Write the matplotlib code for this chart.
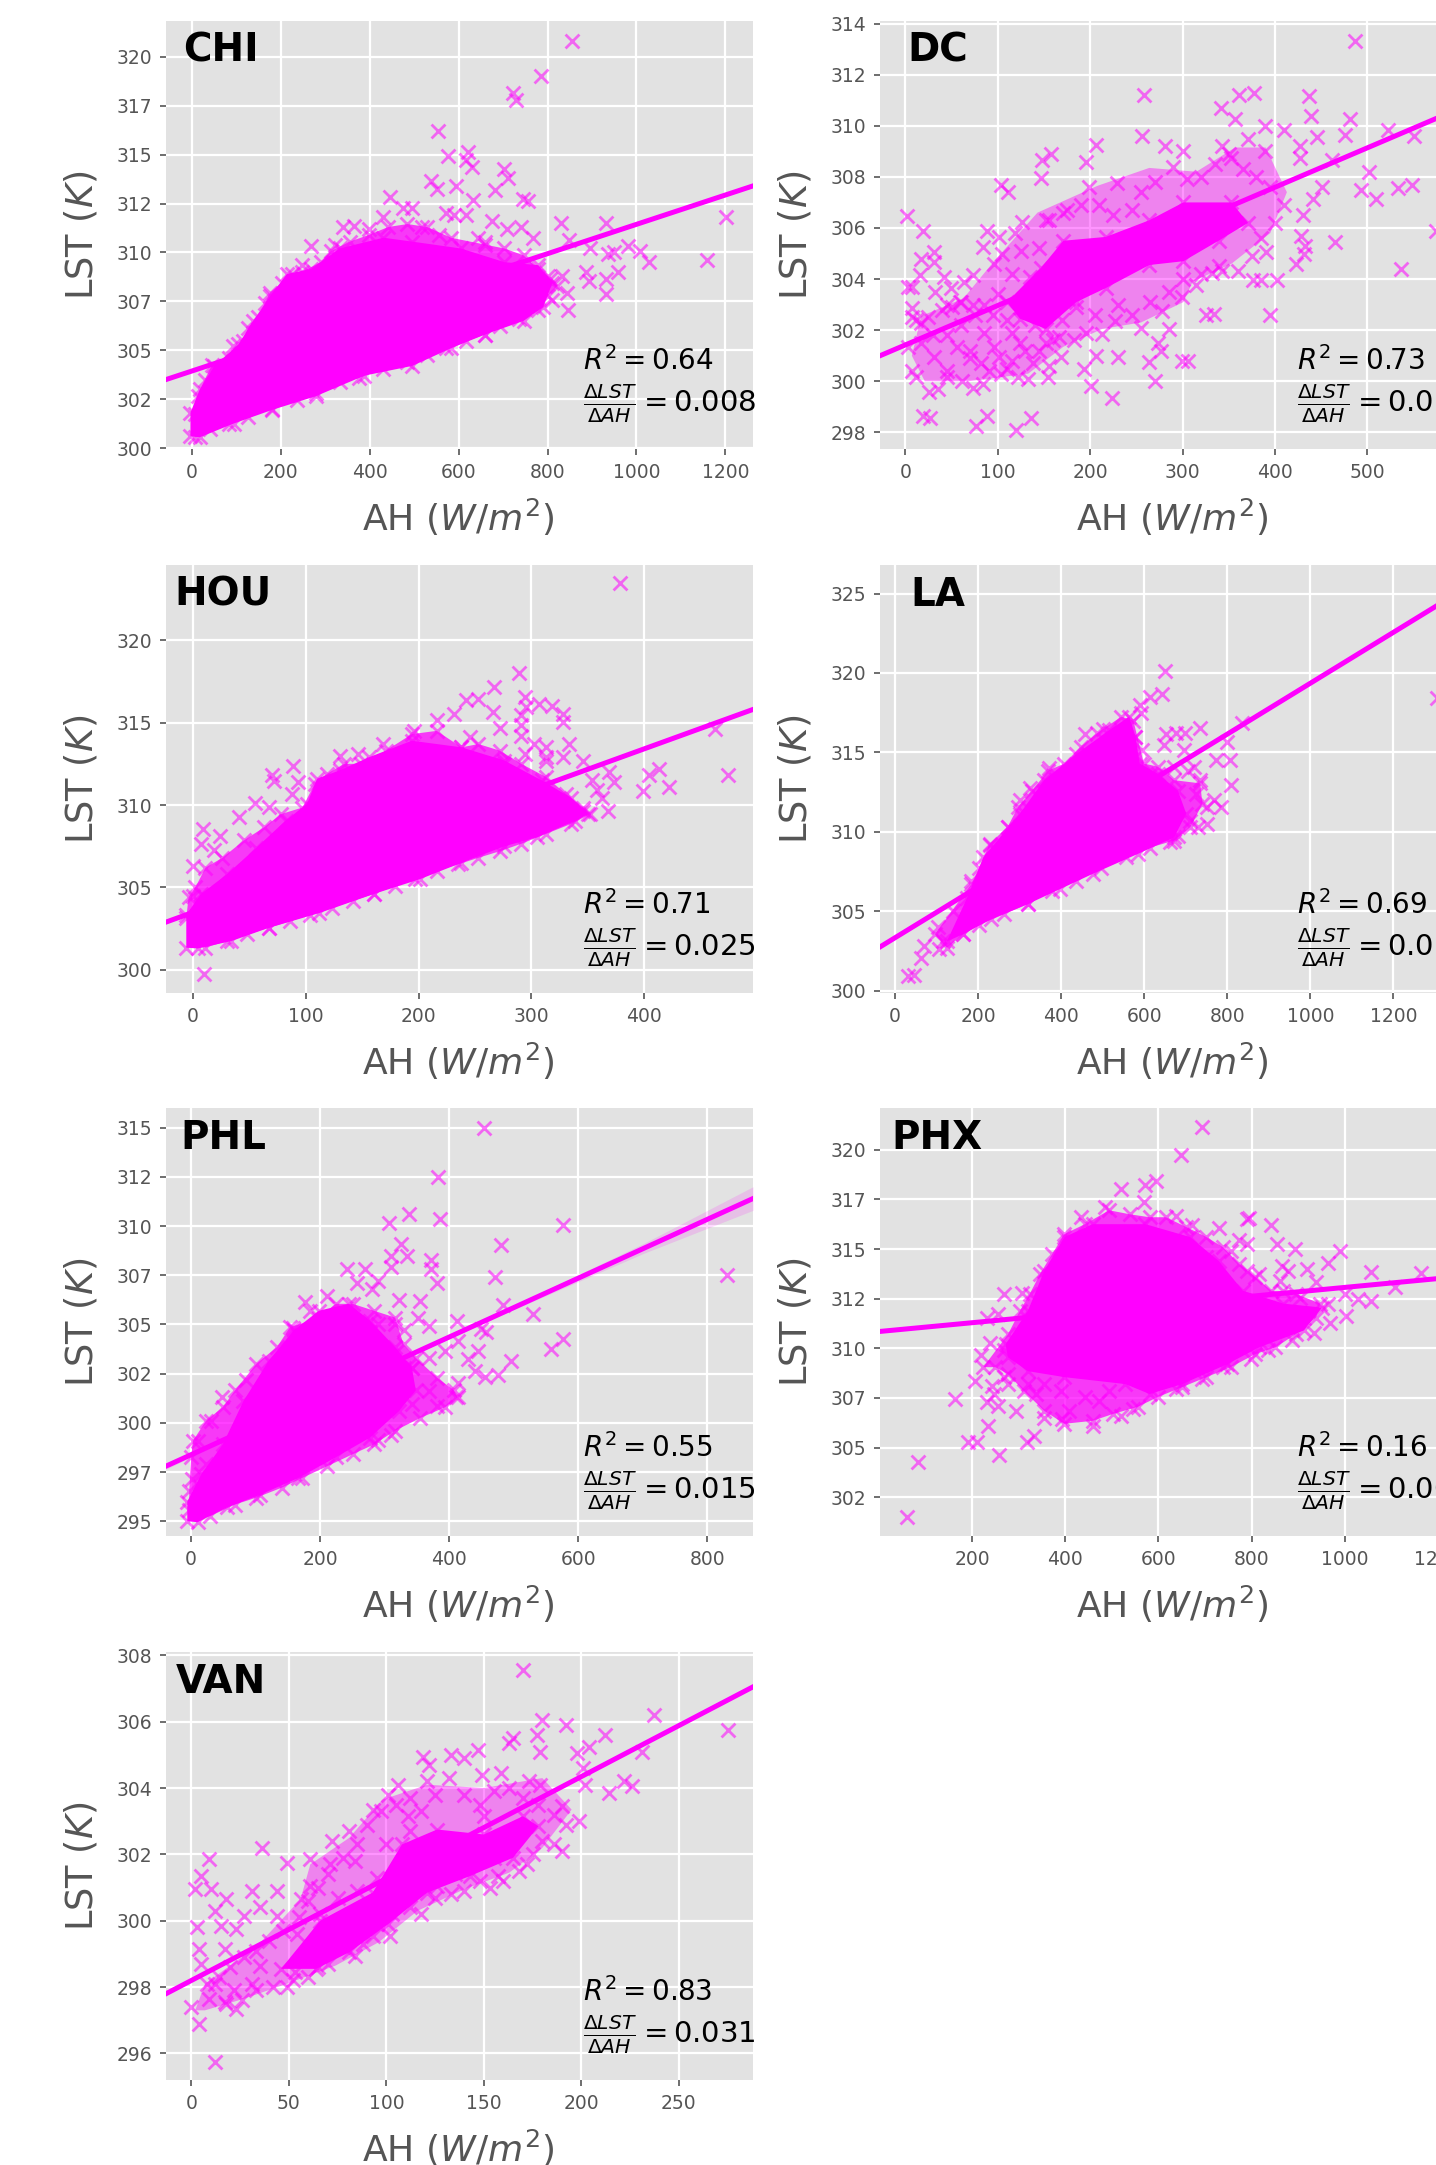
import matplotlib
matplotlib.use('Agg')
import matplotlib.pyplot as plt

# values. the dense middle of each cloud can't be read as single
# crosses so it is kept as an outline (*_core), the crosses around it are listed one by one
# *_edge = crosses along the rim of the cloud

# CHI
chi_x = [855,786,722,728,554,577,621,616,630,703,710,538,551,594,681,632,744,757,445,475,496,589,616,572,831,931,1202,675,741,708,339,364,399,431,768,849,896,980,1009,1028,936,950,1159,958,931,931,887,893,846,844,811,833,806,268,247,92,322,659,643,556,518]
chi_y = [320.8,319.0,318.15,317.8,316.2,314.95,315.15,314.7,314.35,314.25,313.8,313.65,313.25,313.4,313.2,312.7,312.75,312.65,312.85,312.25,312.25,311.9,311.9,312,311.5,311.5,311.8,311.6,311.3,311.2,311.3,311.35,311.2,311.8,310.75,310.65,310.2,310.35,310.05,309.5,309.9,310.0,309.6,309.0,308.65,307.85,309,308.55,307.05,307.9,307.55,308.8,308.65,310.35,309.35,305.2,310.4,310.55,310.75,310.9,311.3]
chi_edge_x = [8,13,29,46,84,116,127,149,165,176,203,225,247,290,312,355,399,442,485,529,583,659,703,746,779,800,822,800,779,735,692,659,616,572,529,485,431,377,333,279,236,181,127,84,40,8]
chi_edge_y = [301.75,302.65,303.5,304.25,304.6,305.45,306.15,306.7,307.4,307.95,308.45,308.9,309,309.5,310.05,310.55,310.9,311.3,311.45,311.3,310.75,310.4,310.2,309.85,309.15,308.8,308.3,307.75,307.05,306.6,306.25,305.8,305.45,305.1,304.75,304.4,304.05,303.6,303.35,302.8,302.45,302,301.6,301.25,300.95,300.55]
chi_core_x = [-3,-3,18,51,105,138,176,214,268,333,431,496,605,703,779,811,790,746,659,583,496,388,279,181,94,18]
chi_core_y = [300.6,301.8,303.0,304.2,305.3,306.5,307.75,308.9,309.15,310.2,310.75,310.55,310.2,309.5,309.35,308.45,307.2,306.5,305.8,305.1,304.2,303.7,302.65,301.95,301.25,300.55]
chi_line_x = [-58,1262]
chi_line_y = [303.5,313.4]
chi_xticks = [0,200,400,600,800,1000,1200]
chi_yticks = [300,302.5,305,307.5,310,312.5,315,317.5,320]
chi_ylabels = ['300','302','305','307','310','312','315','317','320']

# DC
dc_x = [487,258,361,377,437,342,439,357,481,389,410,523,476,256,446,551,371,281,206,343,427,300,158,148,195,389,353,462,427,147,502,103,111,493,533,548,509,451,441,199,229,171,126,2,19,574,430,88,101,152,428,465,433,31,17,31,84,119,432,423,390,537,42,16,73,63,3,7,32,49,376,385,402,332,315,343,96,299,7,45,59,73,7,17,395,325,334,278,255,285,227,213,182,273,277,168,206,230,264,299,306,193,270,201,224,154,133,122,103,84,73,35,26,7,12,45,45,61,19,27,76,88,120,136,3,31,56,70,96,115,138,101,82,152,124,166,17]
dc_y = [313.3,311.2,311.2,311.3,311.15,310.7,310.4,310.25,310.25,310,309.85,309.85,309.65,309.6,309.55,309.6,309.5,309.2,309.25,309.2,309.2,309,308.9,308.65,308.6,309,308.75,308.65,308.75,307.95,308.2,307.7,307.4,307.5,307.55,307.7,307.15,307.6,307.15,307.6,307.75,306.6,306.25,306.45,305.9,305.9,306.5,305.9,305.65,306.3,305.7,305.45,305.3,305.05,304.8,304.65,305.25,305.8,305,304.6,305.05,304.4,304.1,304.15,304.15,303.9,303.7,303.7,303.5,303.65,303.95,303.95,303.95,304.25,303.75,304.3,304.6,303.3,302.85,303,303.1,303,302.5,302.3,302.6,302.6,302.65,302.75,302.1,302.05,302.35,301.85,301.6,301.5,301.2,300.95,301,300.95,300.75,300.8,300.8,300.5,300,299.8,299.35,300.15,300.1,300.15,300.3,299.9,299.75,299.7,299.6,300.4,300.15,300.4,300.15,300,298.65,298.55,298.25,298.65,298.1,298.55,301.35,300.95,301.35,301.2,301.35,300.8,300.7,300.95,300.7,301.5,301.5,301.75,301.5]
dc_edge_x = [40,50,60,25,12,30,45,60,75,85,100,95,110,115,125,85,70,90,110,130,145,155,140,150,135,115,105,125,145,155,175,190,210,225,245,255,270,290,305,320,335,350,365,380,395,410,400,385,375,360,340,320,300,285,265,245,230,205,185,170,160,195]
dc_edge_y = [302.8,302.9,303.1,302.5,302.4,301.8,301.8,302.2,302.6,303,303.4,302.6,302.4,301.9,302.9,301.9,300.9,300.4,300.5,301.2,301.2,300.6,302.2,303,304.1,304.2,305,305.1,305.2,306.3,306.7,306.9,306.9,306.5,306.7,307.4,307.8,308.4,307.9,308,308.5,308.9,308.3,308,307.6,306.9,306.2,305.6,304.9,304.3,304.5,304.2,304,303.5,303.1,302.6,303,302.6,302.9,302.4,301.6,301.9]
dc_core_x = [110,147,171,217,264,301,353,371,339,301,264,217,185,152,124]
dc_core_y = [303.1,304.45,305.5,305.65,306.3,307,307,306.2,305.5,304.7,304.55,303.65,303.1,302.05,302.45]
dc_haze_x = [7,17,63,96,143,208,264,315,357,390,413,395,353,311,301,255,213,171,133,68,21]
dc_haze_y = [301,302.55,303.25,304.7,306.6,307.65,308.35,308.2,309.15,309.15,307.4,305.8,304.6,303.9,303.1,302.3,302.05,301.35,300.3,300,300]
dc_line_x = [-27.5,608]
dc_line_y = [301.0,310.8]
dc_xticks = [0,100,200,300,400,500,600]
dc_yticks = [298,300,302,304,306,308,310,312,314]
dc_ylabels = ['298','300','302','304','306','308','310','312','314']

# HOU
hou_x = [379,289,267,294,253,242,307,318,295,266,328,328,291,291,231,463,272,291,216,333,302,313,346,328,369,373,413,404,474,422,399,368,363,354,358,346,313,130,146,168,196,89,70,72,93,88,55,67,41,9,24,7,0,19,10,0]
hou_y = [323.45,318.0,317.15,316.55,316.45,316.35,316.1,316.0,315.95,315.65,315.55,315.05,315.45,314.85,315.55,314.6,314.7,314.2,315.15,313.7,313.7,313.5,312.7,312.9,312,311.4,312.2,311.85,311.85,311.1,310.85,309.65,310.45,311.5,310.9,309.65,312.7,312.95,313.1,313.7,314.5,312.35,311.85,311.45,311.4,310.65,310.15,309.9,309.25,308.55,308.15,307.65,306.3,307.3,299.75,304.5]
hou_edge_x = [-6,-4,2,11,26,45,63,78,97,108,119,134,149,171,194,216,238,253,272,291,313,331,346,352,335,313,291,272,253,235,216,197,179,160,142,123,104,86,67,48,30,11,276,294,313,246]
hou_edge_y = [303.15,304.4,305,306.2,306.8,307.85,308.65,309.45,309.85,311.3,311.9,312.5,312.5,313.3,314.3,314.5,313.5,313.7,313.3,312.5,311.7,310.65,309.85,309.45,308.85,308.25,307.65,307.2,306.8,306.4,306,305.5,305.1,304.6,304.2,303.75,303.35,302.95,302.55,302.15,301.75,301.35,312.5,313.1,312.9,314.1]
hou_core_x = [-6,-6,7,30,56,82,101,110,130,156,194,238,276,309,335,350,339,305,276,238,201,160,112,67,34,4]
hou_core_y = [301.35,303.35,304.6,305.8,307.4,309.05,310.05,311.6,312.1,312.9,313.9,313.5,312.7,311.5,310.45,309.45,309.05,308.05,307.5,306.5,305.5,304.6,303.45,302.55,301.75,301.3]
hou_line_x = [-24,496.5]
hou_line_y = [302.9,315.8]
hou_xticks = [0,100,200,300,400]
hou_yticks = [300,305,310,315,320]
hou_ylabels = ['300','305','310','315','320']

# LA
la_x = [1304,649,642,613,589,592,836,735,652,677,699,647,696,799,774,806,810,720,594,579,457,501,371,325,301,271,228,184,140,103,71,105,32,45,62,769,784,750,730,735,706,750,711,662,681,672,725,115]
la_y = [318.4,320.15,318.7,318.5,318,317.45,316.85,316.55,316.15,316.2,316.25,315.45,315.15,315.65,314.5,314.55,312.95,314.1,315.15,316,316.15,316.5,314,312.75,312,310.3,309.15,306.9,305,304,302.8,302.6,300.9,301,302.05,312,311.55,310.5,310.3,313.25,313.85,311.55,310.7,309.35,309.75,314.1,312.4,303.1]
la_edge_x = [184,203,228,271,296,330,369,408,447,486,545,574,599,633,672,735,740,711,672,613,555,496,437,379,320,262,203,164,125,96]
la_edge_y = [306.7,307.75,309.25,310.3,311.55,312.6,313.85,314.3,315.35,316.2,317.25,317,314.3,314.1,313.25,313.05,311.75,310.3,309.45,309,308.4,307.75,306.9,306.3,305.45,304.8,304.15,303.55,302.7,303.55]
la_core_x = [125,174,213,301,359,437,516,564,579,589,633,681,701,672,584,476,398,320,232,164]
la_core_y = [303.1,305.85,308.4,311.15,313.25,314.9,316.4,317.25,316,314.3,313.65,312.6,311.15,309.65,308.6,307.35,306.4,305.45,304.5,303.55]
la_line_x = [-36,1377]
la_line_y = [302.75,325.4]
la_xticks = [0,200,400,600,800,1000,1200]
la_yticks = [300,305,310,315,320,325]
la_ylabels = ['300','305','310','315','320','325']

# PHL
phl_x = [454,383,338,386,307,576,325,480,335,309,309,371,371,241,269,470,830,381,257,290,280,211,176,184,322,355,483,351,530,412,368,449,457,576,558,413,444,429,496,475,455,439,394,413,410,381,47,85,158,2,10,31,290,309,342,316,16,23]
phl_y = [315,312.5,310.6,310.35,310.15,310.05,309.1,309.05,308.5,308.5,307.9,308.3,307.8,307.8,307.8,307.4,307.5,307.1,307.1,307.2,306.8,306.45,306.15,305.7,306.25,306.2,306,305.35,305.55,305.2,304.9,304.75,304.6,304.25,303.75,304.15,303.65,303.25,303.15,302.45,302.35,302.65,303.65,302,301.3,300.85,301.3,302.2,304.8,297.15,299.1,300.1,299.15,299.4,302.8,305,296.35,297.9]
phl_edge_x = [-3,-3,0,3,23,49,68,101,133,153,198,224,250,283,316,329,348,381,407,413,394,355,316,283,250,211,172,140,101,68,29,368,329,368,316,342,290,329]
phl_edge_y = [295.55,296.55,298.25,299.1,300.1,300.8,301.65,303,303.85,304.85,305.35,306.05,306.05,305.7,305.35,304,303.3,302.3,301.65,301.3,300.8,300.25,299.6,298.9,298.4,297.8,297.2,296.7,296.2,295.85,295.25,303.3,302.8,301.6,301.6,300.95,305,304.7]
phl_core_x = [-6,-6,16,49,81,120,159,198,244,277,316,342,348,322,277,224,166,107,55,10]
phl_core_y = [295,296,297.4,298.9,301.1,303.15,304.7,305.7,306.05,305.2,303.85,302.8,301.65,300.6,299.25,298.25,297.2,296.35,295.7,294.95]
phl_line_x = [-39,870.5]
phl_line_y = [297.8,311.4]
phl_band_x = [-39,100,300,500,700,870.5]
phl_band_hi = [297.9,299.95,302.95,305.96,309.1,312.0]
phl_band_lo = [297.65,299.8,302.8,305.76,308.6,310.8]
phl_xticks = [0,200,400,600,800]
phl_yticks = [295,297.5,300,302.5,305,307.5,310,312.5,315]
phl_ylabels = ['295','297','300','302','305','307','310','312','315']

# PHX
phx_x = [61,83,163,191,211,257,235,207,220,239,233,255,268,307,317,333,294,255,233,242,277,355,394,459,520,472,407,338,546,638,694,738,799,834,886,934,968,1003,1055,1029,1000,1055,1108,1164,990,964,893,919,855,842,790,794,790,729,672,638,594,572,520,568,485,433,649,694,864,938,773,816,868,964]
phx_y = [301.5,304.3,307.45,305.3,305.3,304.65,306.1,308.35,309.65,310.25,311.55,311.75,312.75,312.8,305.3,305.6,306.85,307.1,307.3,308.1,308.2,306.5,306.45,306.1,306.6,307.35,306.85,307.7,306.95,307.95,308.45,309.05,309.45,309.9,310.4,310.75,311.25,311.65,312.4,312.5,312.75,313.85,313.1,313.8,314.9,314.3,315,314,315.25,316.2,316.5,316.55,315.25,316.05,316.2,316.65,318.4,318.2,318,317.35,317.1,316.6,319.75,321.15,314.15,313.35,315.45,313.75,312.9,312.25]
phx_edge_x = [277,303,324,346,372,398,442,494,538,581,616,660,703,738,773,807,842,894,947,938,894,851,807,755,703,651,599,555,503,459,398,355,311,277,250,224,268,320,390,442,494,355,268,246,703,755,790,877,903,834,860]
phx_edge_y = [310.7,311.9,312.75,313.75,314.75,315.75,316.25,316.95,316.75,316.6,316.6,316.1,315.6,315.1,314.25,313.6,312.9,312.75,312.25,311.55,310.7,310.05,309.7,309.05,308.55,308.05,307.55,307.05,306.7,306.35,306.2,306.85,307.85,308.7,309.05,309.05,309.9,308.2,307.85,307.55,307.85,308.2,308.55,307.7,314.6,314.9,313.9,313.9,312.55,312.05,313.4]
phx_core_x = [272,320,355,398,459,572,668,729,781,868,951,912,816,747,651,581,529,398,320,277]
phx_core_y = [310.2,311.9,313.9,315.6,316.25,316.25,315.6,314.4,312.9,312.25,312.05,310.9,310.05,309.2,308.2,307.7,308.2,308.55,308.85,309.55]
phx_line_x = [2.4,1262]
phx_line_y = [310.85,313.65]
phx_xticks = [200,400,600,800,1000,1200]
phx_yticks = [302.5,305,307.5,310,312.5,315,317.5,320]
phx_ylabels = ['302','305','307','310','312','315','317','320']

# VAN
van_x = [170,237,180,192,275,177,165,163,212,204,198,179,231,147,133,119,140,122,201,149,159,106,121,202,222,226,214,173,179,101,93,190,199,81,72,190,180,36,9,61,49,5,172,157,71,2,10,31,44,140,153,133,18,12,35,27,44,56,118,102,3,15,23,4,17,5,93,84,65,49,53,35,0,4,12,23,17,9,12,31,22,111,150,165,155,138,126,84,61,66,54]
van_y = [307.55,306.2,306.05,305.9,305.75,305.6,305.5,305.35,305.6,305.25,305.05,305.1,305.1,305.15,305,304.95,304.9,304.7,304.6,304.4,304.45,304.1,304.2,304.1,304.2,304.05,303.85,304.2,304.1,303.8,303.35,303.45,303,302.7,302.4,302.1,302.4,302.2,301.85,301.85,301.75,301.35,301.7,301.35,301.7,300.95,300.95,300.9,300.9,300.9,301,300.8,300.65,300.3,300.4,300.15,300.15,300.65,300.2,299.55,299.8,299.85,299.75,299.15,299.15,298.7,299.55,298.95,298.6,298,298.45,298.65,297.4,296.9,295.75,297.35,297.55,297.65,298.1,298.1,297.9,303.15,303.15,302.5,301.9,301.7,301.05,301.8,301.05,300.2,299.6]
van_edge_x = [8,14,20,27,33,40,47,55,60,65,70,78,85,90,97,105,112,118,125,132,140,148,155,163,170,178,186,192,186,175,168,160,148,135,125,112,103,95,88,78,70,60,52,42,33,26,18,75,85,95,105,100,112,120]
van_edge_y = [298.1,298.3,298.6,298.9,299.1,299.4,299.7,300.1,300.6,301,301.4,301.9,302.3,302.9,303.3,303.5,303.7,303.3,303.8,304.3,303.8,303.5,303.9,304,303.7,303.5,303.2,302.9,302.3,302,301.5,301.2,301.2,301.4,300.7,300.4,300.2,299.9,299.3,299.2,298.7,298.3,298.2,298,297.9,297.6,297.5,300.7,300.9,301.3,301.4,302.3,302.7,301.9]
van_core_x = [46,66,93,108,126,150,170,178,165,143,121,101,81,64]
van_core_y = [298.55,300,300.85,302.3,302.75,302.6,303.15,302.85,301.9,301.35,300.85,299.9,299.05,298.55]
van_haze_x = [2,7,34,56,61,81,98,121,150,180,195,180,163,140,116,96,74,49,27,7]
van_haze_y = [297.3,298.1,299.25,300.65,301.7,302.5,303.65,304.1,304,304.3,303.35,302.2,301.45,300.95,300.3,299.35,298.65,298.1,297.65,297.3]
van_line_x = [-13,288]
van_line_y = [297.8,307.05]
van_xticks = [0,50,100,150,200,250]
van_yticks = [296,298,300,302,304,306,308]
van_ylabels = ['296','298','300','302','304','306','308']

W,H = 1436,2165
MAG = '#ff00ff'
GREY = '#555555'

fig = plt.figure(figsize=(W/100,H/100),dpi=100,facecolor='white')

def panel(left,top,name,name_x,pts,edge,core,line,xlim,ylim,xticks,yticks,ylabels,r2,slope,haze=None,haze_a=0.75,band=None):
    ax = fig.add_axes([left/W,1-(top+428)/H,587/W,428/H],facecolor='#e2e2e2')
    for s in ax.spines.values():
        s.set_visible(False)
    ax.set_axisbelow(True)
    ax.grid(color='white',lw=1.6)
    if haze is not None:
        ax.fill(haze[0],haze[1],color=MAG,alpha=haze_a,lw=0)
    ax.fill(core[0],core[1],color=MAG,lw=0)
    ax.scatter(pts[0]+edge[0]+core[0],pts[1]+edge[1]+core[1],marker='x',s=100,color=MAG,alpha=0.55,linewidths=2)
    if band is not None:
        ax.fill_between(band[0],band[1],band[2],color=MAG,alpha=0.15,lw=0)
    ax.plot(line[0],line[1],color=MAG,lw=3.6)
    ax.set_xlim(xlim)
    ax.set_ylim(ylim)
    ax.set_xticks(xticks)
    ax.set_xticklabels([str(t) for t in xticks])
    ax.set_yticks(yticks)
    ax.set_yticklabels(ylabels)
    ax.tick_params(colors=GREY,labelsize=13.5,length=4,width=1.2,pad=6)
    ax.set_xlabel('AH ($W/m^2$)',color=GREY,fontsize=26)
    ax.set_ylabel('LST ($K$)',color=GREY,fontsize=26.5)
    ax.xaxis.set_label_coords(0.497,-0.112)
    ax.yaxis.set_label_coords(-0.112,0.5)
    ax.text(name_x,0.93,name,transform=ax.transAxes,fontsize=28,fontweight='bold',color='black',va='center',ha='left')
    ax.text(0.71,0.205,'$R^2 = %s$'%r2,transform=ax.transAxes,fontsize=20,color='black',va='center',ha='left',clip_on=False)
    ax.text(0.71,0.105,r'$\frac{\Delta LST}{\Delta AH} = %s$'%slope,transform=ax.transAxes,fontsize=21,color='black',va='center',ha='left',clip_on=False)
    return ax

panel(166,21,'CHI',0.03,(chi_x,chi_y),(chi_edge_x,chi_edge_y),(chi_core_x,chi_core_y),(chi_line_x,chi_line_y),(-58,1262),(299.95,321.83),chi_xticks,chi_yticks,chi_ylabels,'0.64','0.008',haze=(chi_edge_x,chi_edge_y))
panel(880,21,'DC',0.047,(dc_x,dc_y),(dc_edge_x,dc_edge_y),(dc_core_x,dc_core_y),(dc_line_x,dc_line_y),(-27.5,608),(297.35,314.1),dc_xticks,dc_yticks,dc_ylabels,'0.73','0.015',haze=(dc_haze_x,dc_haze_y),haze_a=0.42)
panel(166,565,'HOU',0.014,(hou_x,hou_y),(hou_edge_x,hou_edge_y),(hou_core_x,hou_core_y),(hou_line_x,hou_line_y),(-24,496.5),(298.6,324.56),hou_xticks,hou_yticks,hou_ylabels,'0.71','0.025',haze=(hou_edge_x[:42],hou_edge_y[:42]))
panel(880,565,'LA',0.052,(la_x,la_y),(la_edge_x,la_edge_y),(la_core_x,la_core_y),(la_line_x,la_line_y),(-36,1377),(299.85,326.8),la_xticks,la_yticks,la_ylabels,'0.69','0.016',haze=(la_edge_x,la_edge_y))
panel(166,1108,'PHL',0.024,(phl_x,phl_y),(phl_edge_x,phl_edge_y),(phl_core_x,phl_core_y),(phl_line_x,phl_line_y),(-39,870.5),(294.25,316),phl_xticks,phl_yticks,phl_ylabels,'0.55','0.015',haze=(phl_edge_x[:31],phl_edge_y[:31]),band=(phl_band_x,phl_band_hi,phl_band_lo))
panel(880,1108,'PHX',0.019,(phx_x,phx_y),(phx_edge_x,phx_edge_y),(phx_core_x,phx_core_y),(phx_line_x,phx_line_y),(2.4,1262),(300.55,322.1),phx_xticks,phx_yticks,phx_ylabels,'0.16','0.002',haze=(phx_edge_x[:36],phx_edge_y[:36]))
panel(166,1652,'VAN',0.016,(van_x,van_y),(van_edge_x,van_edge_y),(van_core_x,van_core_y),(van_line_x,van_line_y),(-13,288),(295.2,308.1),van_xticks,van_yticks,van_ylabels,'0.83','0.031',haze=(van_haze_x,van_haze_y),haze_a=0.42)

plt.savefig('out.png',dpi=100)
